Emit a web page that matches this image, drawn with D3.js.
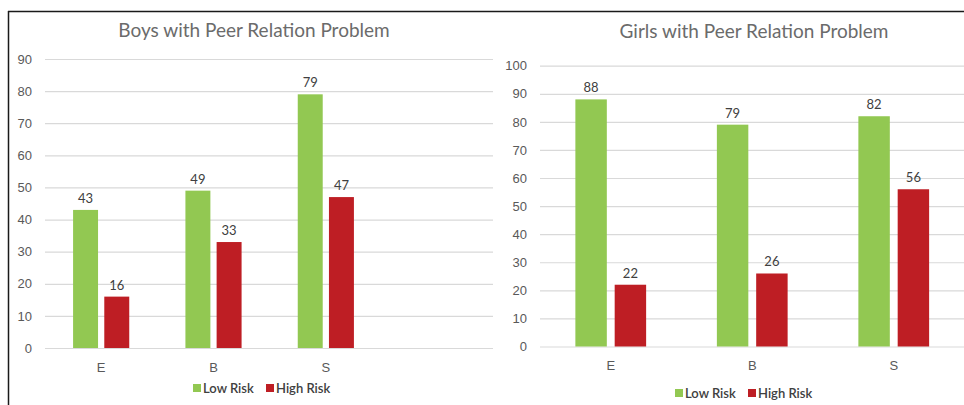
<!DOCTYPE html>
<html>
<head>
<meta charset="utf-8">
<script src="https://cdn.jsdelivr.net/npm/d3@7"></script>
<style>
  body { margin: 0; background: #fff; }
  svg { display: block; font-family: Lato, "Open Sans", sans-serif; }
</style>
</head>
<body>
<div id="chart"></div>
<script>
const categories = ['E', 'B', 'S'];
const seriesNames = ['Low Risk', 'High Risk'];
const seriesColors = ['#92c852', '#be1e24'];

const boysLow = [43, 49, 79];
const boysHigh = [16, 33, 47];
const boysTicks = [0, 10, 20, 30, 40, 50, 60, 70, 80, 90];

const girlsLow = [88, 79, 82];
const girlsHigh = [22, 26, 56];
const girlsTicks = [0, 10, 20, 30, 40, 50, 60, 70, 80, 90, 100];

const width = 964;
const height = 405;

const svg = d3.select('#chart')
  .append('svg')
  .attr('width', width)
  .attr('height', height);

// outer frame: top line and left edge
svg.append('line')
  .attr('x1', 8).attr('x2', width).attr('y1', 11.5).attr('y2', 11.5)
  .attr('stroke', '#1a1a1a').attr('stroke-width', 1.5);
svg.append('line')
  .attr('x1', 8.5).attr('x2', 8.5).attr('y1', 11).attr('y2', height)
  .attr('stroke', '#1a1a1a').attr('stroke-width', 1.5);

function drawPanel(p) {
  const g = svg.append('g');

  const y = d3.scaleLinear().domain(p.yDomain).range([p.yBottom, p.yTop]);
  const x0 = d3.scaleBand().domain(categories).range([p.barLeft, p.barRight]);
  const bw = x0.bandwidth();
  const x1 = d3.scaleBand()
    .domain(seriesNames)
    .range([bw * 0.25, bw * 0.75])
    .paddingInner(0.2);

  // gridlines + y labels
  const yAxis = g.append('g')
    .attr('transform', `translate(${p.gridLeft},0)`)
    .call(d3.axisLeft(y)
      .tickValues(p.ticks)
      .tickSize(-(p.gridRight - p.gridLeft))
      .tickPadding(13));
  yAxis.select('.domain').remove();
  yAxis.selectAll('line').attr('stroke', '#d9d9d9').attr('stroke-width', 1.2);
  yAxis.selectAll('text')
    .attr('fill', '#595959')
    .style('font-size', '13px');

  // x labels
  const xAxis = g.append('g')
    .attr('transform', `translate(0,${p.yBottom})`)
    .call(d3.axisBottom(x0).tickSize(0).tickPadding(p.xPad));
  xAxis.select('.domain').remove();
  xAxis.selectAll('text')
    .attr('fill', '#595959')
    .style('font-size', '13px');

  const rows = categories.map((c, i) => ({ cat: c, values: [p.low[i], p.high[i]] }));

  const groups = g.selectAll('.grp')
    .data(rows)
    .enter()
    .append('g')
    .attr('class', 'grp')
    .attr('transform', d => `translate(${x0(d.cat)},0)`);

  const cells = groups.selectAll('.cell')
    .data(d => d.values.map((v, j) => ({ key: seriesNames[j], value: v, idx: j })))
    .enter();

  cells.append('rect')
    .attr('x', d => x1(d.key))
    .attr('y', d => y(d.value))
    .attr('width', x1.bandwidth())
    .attr('height', d => y(0) - y(d.value))
    .attr('fill', d => seriesColors[d.idx]);

  cells.append('text')
    .attr('x', d => x1(d.key) + x1.bandwidth() / 2)
    .attr('y', d => y(d.value) - 7)
    .attr('text-anchor', 'middle')
    .attr('fill', '#404040')
    .style('font-size', '13px')
    .text(d => d.value);

  // title
  g.append('text')
    .attr('x', p.titleX)
    .attr('y', p.titleY)
    .attr('text-anchor', 'middle')
    .attr('fill', '#6b6b6b')
    .style('font-size', '19px')
    .text(p.title);

  // legend
  const leg = g.append('g').attr('transform', `translate(${p.legendX},${p.legendY})`);
  const legItems = leg.selectAll('.li')
    .data(seriesNames)
    .enter()
    .append('g')
    .attr('class', 'li')
    .attr('transform', (d, i) => `translate(${i * p.legendStep},0)`);
  legItems.append('rect')
    .attr('x', 0).attr('y', -4)
    .attr('width', 8).attr('height', 8)
    .attr('fill', (d, i) => seriesColors[i]);
  legItems.append('text')
    .attr('x', 10)
    .attr('y', 4.5)
    .attr('fill', '#404040')
    .style('font-size', '13px')
    .style('font-weight', 600)
    .text(d => d);
}

drawPanel({
  title: 'Boys with Peer Relation Problem',
  titleX: 254, titleY: 37,
  low: boysLow, high: boysHigh, ticks: boysTicks,
  yDomain: [0, 90], yBottom: 348, yTop: 59,
  gridLeft: 45, gridRight: 493,
  barLeft: 45, barRight: 382,
  xPad: 15,
  legendX: 193, legendY: 388, legendStep: 73
});

drawPanel({
  title: 'Girls with Peer Relation Problem',
  titleX: 754, titleY: 38,
  low: girlsLow, high: girlsHigh, ticks: girlsTicks,
  yDomain: [0, 100], yBottom: 346.5, yTop: 65.7,
  gridLeft: 540, gridRight: 964,
  barLeft: 540, barRight: 964.5,
  xPad: 14,
  legendX: 675, legendY: 393, legendStep: 73
});
</script>
</body>
</html>
